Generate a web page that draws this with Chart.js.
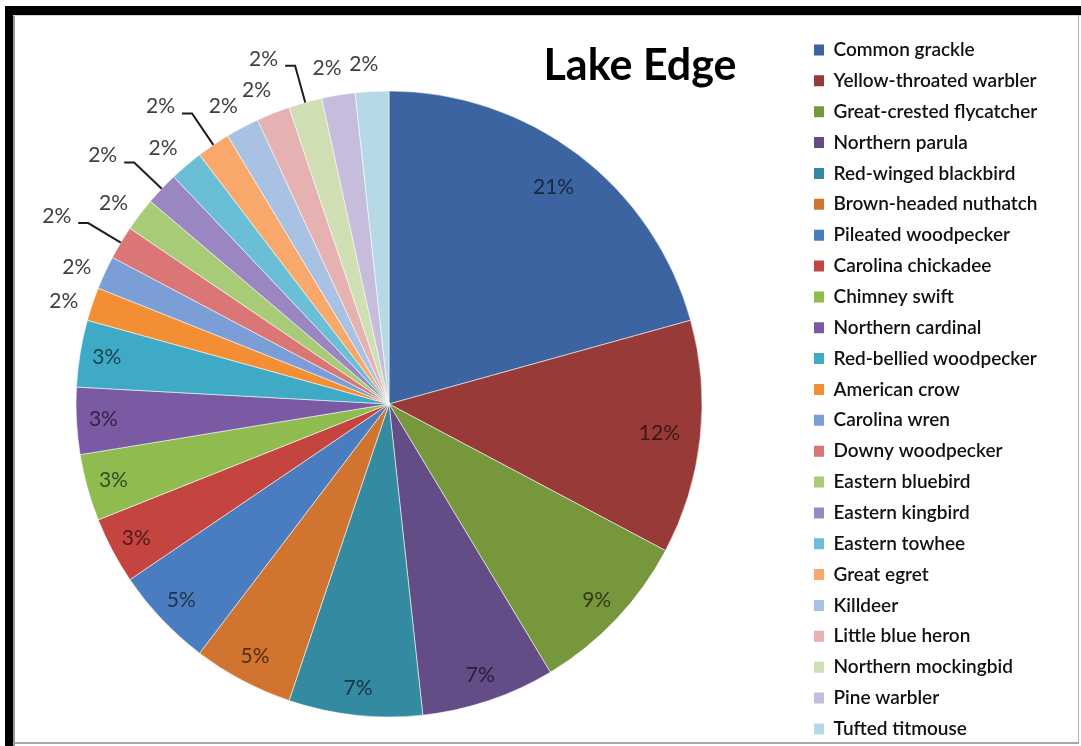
<!DOCTYPE html>
<html>
<head>
<meta charset="utf-8">
<title>Lake Edge</title>
<script src="https://cdn.jsdelivr.net/npm/chart.js@4.4.1/dist/chart.umd.min.js"></script>
<style>
  html, body { margin: 0; padding: 0; background: #fff; overflow: hidden; width: 1081px; height: 746px; }
  #wrap { position: absolute; left: -60px; top: 0; width: 1141px; height: 790px; }
  .frame { position: absolute; }
</style>
</head>
<body>
<div id="wrap"><canvas id="c" width="1141" height="790"></canvas></div>
<!-- picture frame -->
<div class="frame" style="left:5px;top:6px;right:0;height:9px;background:#000"></div>
<div class="frame" style="left:5px;top:6px;width:8px;bottom:0;background:#000"></div>
<div class="frame" style="left:13px;top:15px;width:2px;bottom:0;background:#9a9a9a"></div>
<div class="frame" style="left:13px;top:15px;right:0;height:1px;background:#d6d6d6"></div>
<div class="frame" style="left:1078px;top:15px;width:1px;height:729px;background:#b4b4b4"></div>
<div class="frame" style="left:13px;top:742px;width:1066px;height:2px;background:#a8a8a8"></div>
<script>
// Bird sightings at the lake edge
const chartTitle = 'Lake Edge';
const species = [
  'Common grackle', 'Yellow-throated warbler', 'Great-crested flycatcher', 'Northern parula',
  'Red-winged blackbird', 'Brown-headed nuthatch', 'Pileated woodpecker', 'Carolina chickadee',
  'Chimney swift', 'Northern cardinal', 'Red-bellied woodpecker', 'American crow',
  'Carolina wren', 'Downy woodpecker', 'Eastern bluebird', 'Eastern kingbird',
  'Eastern towhee', 'Great egret', 'Killdeer', 'Little blue heron',
  'Northern mockingbid', 'Pine warbler', 'Tufted titmouse'
];
const sightings = [12, 7, 5, 4, 4, 3, 3, 2, 2, 2, 2, 1, 1, 1, 1, 1, 1, 1, 1, 1, 1, 1, 1];
const sliceColors = [
  '#3B64A0', '#983A37', '#77973D', '#644C87', '#348AA0', '#D0742F',
  '#4A7DBF', '#C4443F', '#8FBB4F', '#7A5BA3', '#3EAAC5', '#F48E35',
  '#7C9ED6', '#DA7676', '#A8CB78', '#9A86C0', '#6ABFD6', '#F8A86A',
  '#A9C1E3', '#E5B2B1', '#CFDEB3', '#C6BCDB', '#B6D9E6'
];
// small slices whose percentage sits out on a leader line
const leaderLabels = ['Downy woodpecker', 'Eastern kingbird', 'Great egret', 'Northern mockingbid'];

const total = sightings.reduce((a, b) => a + b, 0);
const pctText = v => Math.round(v / total * 100) + '%';

// layout of the plot inside the canvas (canvas is shifted 60px left of the page)
const PIE_CX = 449;          // pie centre, canvas x
const LEGEND_BOX_X = 874;    // left edge of the legend swatches, canvas x
const LEGEND_PAD = 11.86;

function shade(hex, f) {
  const n = parseInt(hex.slice(1), 16);
  const r = Math.round(((n >> 16) & 255) * f);
  const g = Math.round(((n >> 8) & 255) * f);
  const b = Math.round((n & 255) * f);
  return `rgb(${r},${g},${b})`;
}

const sliceLabels = {
  id: 'sliceLabels',
  afterDatasetsDraw(chart) {
    const ctx = chart.ctx;
    const meta = chart.getDatasetMeta(0);
    ctx.save();
    ctx.font = '21px Lato';
    meta.data.forEach((arc, i) => {
      const { x, y, startAngle, endAngle, outerRadius } =
        arc.getProps(['x', 'y', 'startAngle', 'endAngle', 'outerRadius'], true);
      const mid = (startAngle + endAngle) / 2;
      const cos = Math.cos(mid), sin = Math.sin(mid);
      const v = sightings[i];
      const txt = pctText(v);
      const share = v / total * 100;
      ctx.textBaseline = 'middle';
      if (share >= 2.5) {
        const r = outerRadius - (txt.length > 2 ? 41 : 27);
        ctx.fillStyle = shade(sliceColors[i], 0.4);
        ctx.textAlign = 'center';
        ctx.fillText(txt, x + cos * r, y + sin * r);
      } else if (leaderLabels.includes(species[i])) {
        const r1 = outerRadius + 38;
        const bx = x + cos * r1, by = y + sin * r1;
        ctx.strokeStyle = '#1e1e1e';
        ctx.lineWidth = 2;
        ctx.beginPath();
        ctx.moveTo(x + cos * outerRadius, y + sin * outerRadius);
        ctx.lineTo(bx, by);
        ctx.lineTo(bx - 10, by);
        ctx.stroke();
        ctx.fillStyle = '#404040';
        ctx.textAlign = 'right';
        ctx.fillText(txt, bx - 17, by - 7);
      } else {
        const r = outerRadius + 28;
        const a = mid - 0.02;
        ctx.fillStyle = '#404040';
        ctx.textAlign = 'center';
        ctx.fillText(txt, x + Math.cos(a) * r, y + Math.sin(a) * r);
      }
    });
    // chart heading, set inside the upper right of the plot
    ctx.font = 'bold 43px Lato';
    ctx.fillStyle = '#000';
    ctx.textAlign = 'center';
    ctx.textBaseline = 'alphabetic';
    ctx.fillText(chartTitle, PIE_CX + 251, 80);
    ctx.restore();
  }
};

function draw() {
  const baseLabels = Chart.overrides.pie.plugins.legend.labels.generateLabels;
  const chart = new Chart(document.getElementById('c'), {
    type: 'pie',
    data: {
      labels: species,
      datasets: [{
        data: sightings,
        backgroundColor: sliceColors,
        borderColor: 'rgba(255,255,255,0.55)',
        borderWidth: 1,
        radius: 313
      }]
    },
    options: {
      responsive: false,
      animation: false,
      events: [],
      layout: { padding: { left: 35.86, right: 30, top: 28.64, bottom: 10.64 } },
      plugins: {
        title: { display: false },
        tooltip: { enabled: false },
        legend: {
          position: 'right',
          align: 'start',
          labels: {
            boxWidth: 10,
            boxHeight: 11,
            padding: LEGEND_PAD,
            color: '#111',
            font: { family: 'Lato', size: 19, weight: '600' },
            generateLabels: chart => baseLabels(chart).map(l => Object.assign(l, { lineWidth: 0 }))
          }
        }
      }
    },
    plugins: [sliceLabels]
  });
  // place the legend column and keep the pie centred left of it
  const targetLeft = LEGEND_BOX_X - LEGEND_PAD;
  const pad = chart.options.layout.padding;
  pad.right += chart.legend.left - targetLeft;
  pad.left = 2 * PIE_CX - targetLeft;
  chart.update();
}

Promise.all([
  document.fonts.load('21px Lato'),
  document.fonts.load('bold 43px Lato'),
  document.fonts.load('600 19px Lato')
]).then(draw, draw);
</script>
</body>
</html>
